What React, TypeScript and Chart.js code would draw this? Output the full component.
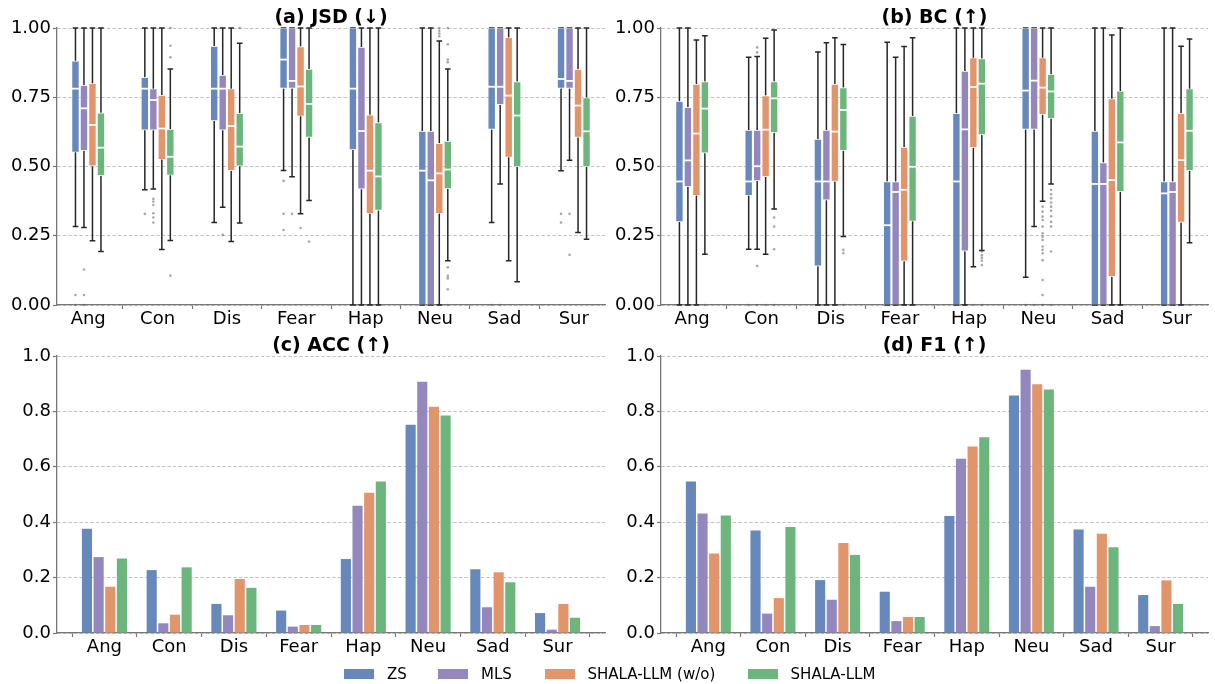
import React, { useEffect, useRef } from "react";
import { Chart, registerables } from "chart.js";

Chart.register(...registerables);

const FONT = "DejaVu Sans";

// ---------------- data ----------------
const categories = ["Ang", "Con", "Dis", "Fear", "Hap", "Neu", "Sad", "Sur"];
const seriesNames = ["ZS", "MLS", "SHALA-LLM (w/o)", "SHALA-LLM"];
const seriesColors = ["#6788bb", "#9487be", "#e2946a", "#6cb67e"];

// Box stats per category: [lowWhisker, q1, median, q3, highWhisker]
type BoxStat = number[];

const jsdZS: BoxStat[] = [
  [0.283, 0.551, 0.781, 0.882, 1.0],
  [0.416, 0.631, 0.781, 0.822, 1.0],
  [0.298, 0.664, 0.781, 0.935, 1.0],
  [0.486, 0.782, 0.886, 1.0, 1.0],
  [0.0, 0.56, 0.781, 1.0, 1.0],
  [0.0, 0.0, 0.485, 0.628, 1.0],
  [0.298, 0.634, 0.788, 1.0, 1.0],
  [0.485, 0.782, 0.816, 1.0, 1.0],
];
const jsdMLS: BoxStat[] = [
  [0.28, 0.557, 0.71, 0.793, 1.0],
  [0.419, 0.631, 0.74, 0.781, 1.0],
  [0.353, 0.631, 0.781, 0.83, 1.0],
  [0.463, 0.782, 0.809, 1.0, 1.0],
  [0.0, 0.418, 0.628, 0.931, 1.0],
  [0.0, 0.0, 0.45, 0.628, 1.0],
  [0.437, 0.723, 0.788, 1.0, 1.0],
  [0.523, 0.782, 0.809, 1.0, 1.0],
];
const jsdWo: BoxStat[] = [
  [0.232, 0.501, 0.65, 0.8, 1.0],
  [0.2, 0.525, 0.637, 0.758, 1.0],
  [0.229, 0.485, 0.646, 0.781, 1.0],
  [0.329, 0.681, 0.789, 0.933, 1.0],
  [0.0, 0.33, 0.485, 0.687, 1.0],
  [0.0, 0.33, 0.475, 0.584, 0.953],
  [0.16, 0.533, 0.756, 0.966, 1.0],
  [0.262, 0.605, 0.72, 0.851, 1.0],
];
const jsdShala: BoxStat[] = [
  [0.193, 0.467, 0.568, 0.694, 1.0],
  [0.233, 0.468, 0.535, 0.635, 0.852],
  [0.296, 0.501, 0.572, 0.692, 0.945],
  [0.377, 0.605, 0.726, 0.852, 1.0],
  [0.0, 0.341, 0.464, 0.659, 1.0],
  [0.16, 0.419, 0.489, 0.592, 0.852],
  [0.084, 0.498, 0.684, 0.807, 1.0],
  [0.237, 0.498, 0.627, 0.749, 1.0],
];

const jsdOutZS = [[0.036, 0.0], [0.329], [], [0.448, 0.329, 0.271], [], [], [0.0], [0.329, 0.298]];
const jsdOutMLS = [[0.128, 0.036, 0.0], [0.383, 0.373, 0.361, 0.331, 0.316, 0.298], [0.253], [0.329], [], [], [0.0], [0.329, 0.181]];
const jsdOutWo = [[], [], [], [0.278], [], [1.0, 0.99, 0.98, 0.97], [], []];
const jsdOutShala = [[], [1.0, 0.936, 0.894, 0.106], [1.0], [0.229], [], [1.0, 0.941, 0.886, 0.876, 0.136, 0.105, 0.096, 0.057, 0.0], [], []];

const bcZS: BoxStat[] = [
  [0.0, 0.3, 0.446, 0.736, 1.0],
  [0.201, 0.395, 0.446, 0.632, 0.894],
  [0.0, 0.14, 0.446, 0.599, 0.913],
  [0.0, 0.0, 0.288, 0.446, 0.949],
  [0.0, 0.0, 0.446, 0.692, 1.0],
  [0.1, 0.634, 0.774, 1.0, 1.0],
  [0.0, 0.0, 0.437, 0.628, 1.0],
  [0.0, 0.0, 0.403, 0.446, 1.0],
];
const bcMLS: BoxStat[] = [
  [0.0, 0.427, 0.522, 0.714, 1.0],
  [0.201, 0.448, 0.501, 0.632, 0.897],
  [0.0, 0.378, 0.446, 0.632, 0.947],
  [0.0, 0.0, 0.408, 0.446, 0.894],
  [0.0, 0.194, 0.634, 0.845, 1.0],
  [0.283, 0.634, 0.81, 1.0, 1.0],
  [0.0, 0.0, 0.437, 0.514, 1.0],
  [0.0, 0.0, 0.408, 0.446, 1.0],
];
const bcWo: BoxStat[] = [
  [0.0, 0.395, 0.619, 0.798, 0.957],
  [0.183, 0.462, 0.633, 0.756, 0.963],
  [0.0, 0.446, 0.626, 0.798, 0.965],
  [0.0, 0.158, 0.416, 0.57, 0.933],
  [0.138, 0.568, 0.787, 0.893, 1.0],
  [0.375, 0.687, 0.785, 0.893, 1.0],
  [0.0, 0.102, 0.451, 0.745, 0.975],
  [0.0, 0.298, 0.523, 0.692, 0.934],
];
const bcShala: BoxStat[] = [
  [0.183, 0.548, 0.709, 0.807, 0.972],
  [0.347, 0.622, 0.746, 0.807, 0.993],
  [0.247, 0.557, 0.704, 0.785, 0.94],
  [0.0, 0.302, 0.499, 0.682, 0.965],
  [0.197, 0.614, 0.799, 0.89, 1.0],
  [0.437, 0.673, 0.771, 0.833, 1.0],
  [0.0, 0.409, 0.587, 0.773, 1.0],
  [0.225, 0.484, 0.629, 0.781, 0.96],
];

const bcOutZS = [[], [0.0], [], [], [], [0.0], [], []];
const bcOutMLS = [[], [0.93, 0.912, 0.141, 0.0], [], [], [], [0.0], [], []];
const bcOutWo = [[], [0.0], [], [], [0.0], [0.355, 0.337, 0.319, 0.307, 0.283, 0.259, 0.247, 0.235, 0.211, 0.199, 0.187, 0.162, 0.09, 0.036, 0.0], [], []];
const bcOutShala = [[0.0], [0.316, 0.283, 0.201, 0.0], [0.199, 0.187, 0.0], [], [0.193, 0.18, 0.17, 0.16, 0.144, 0.0], [0.415, 0.4, 0.385, 0.37, 0.355, 0.34, 0.32, 0.3, 0.283, 0.193, 0.0], [], [0.0]];

const accZS = [0.376, 0.227, 0.105, 0.081, 0.267, 0.752, 0.23, 0.072];
const accMLS = [0.274, 0.035, 0.064, 0.023, 0.459, 0.907, 0.093, 0.012];
const accWo = [0.167, 0.066, 0.195, 0.029, 0.506, 0.817, 0.219, 0.105];
const accShala = [0.269, 0.237, 0.163, 0.029, 0.547, 0.785, 0.183, 0.055];

const f1ZS = [0.547, 0.37, 0.191, 0.149, 0.422, 0.857, 0.374, 0.137];
const f1MLS = [0.431, 0.07, 0.12, 0.043, 0.629, 0.95, 0.167, 0.025];
const f1Wo = [0.287, 0.126, 0.325, 0.058, 0.673, 0.898, 0.358, 0.19];
const f1Shala = [0.424, 0.383, 0.282, 0.058, 0.707, 0.879, 0.31, 0.105];

const topTicks = [0, 0.25, 0.5, 0.75, 1.0];
const bottomTicks = [0, 0.2, 0.4, 0.6, 0.8, 1.0];

// ---------------- helpers ----------------
const boxPlugin = {
  id: "boxExtras",
  beforeDatasetsDraw(chart: any) {
    const ctx = chart.ctx;
    const y = chart.scales.y;
    chart.data.datasets.forEach((ds: any, di: number) => {
      if (!ds.stats) return;
      const meta = chart.getDatasetMeta(di);
      meta.data.forEach((el: any, i: number) => {
        const s = ds.stats[i];
        const x = el.x;
        const cap = 2.8;
        ctx.save();
        ctx.strokeStyle = "#262626";
        ctx.lineWidth = 1.5;
        ctx.beginPath();
        ctx.moveTo(x, y.getPixelForValue(s[3]));
        ctx.lineTo(x, y.getPixelForValue(s[4]));
        ctx.moveTo(x, y.getPixelForValue(s[1]));
        ctx.lineTo(x, y.getPixelForValue(s[0]));
        ctx.moveTo(x - cap, y.getPixelForValue(s[4]));
        ctx.lineTo(x + cap, y.getPixelForValue(s[4]));
        ctx.moveTo(x - cap, y.getPixelForValue(s[0]));
        ctx.lineTo(x + cap, y.getPixelForValue(s[0]));
        ctx.stroke();
        ctx.restore();
      });
    });
  },
  afterDatasetsDraw(chart: any) {
    const ctx = chart.ctx;
    const y = chart.scales.y;
    chart.data.datasets.forEach((ds: any, di: number) => {
      if (!ds.stats) return;
      const meta = chart.getDatasetMeta(di);
      meta.data.forEach((el: any, i: number) => {
        const s = ds.stats[i];
        const x = el.x;
        const w = el.width;
        ctx.save();
        ctx.strokeStyle = "#ffffff";
        ctx.lineWidth = 1.8;
        ctx.beginPath();
        ctx.moveTo(x - w / 2, y.getPixelForValue(s[2]));
        ctx.lineTo(x + w / 2, y.getPixelForValue(s[2]));
        ctx.stroke();
        ctx.fillStyle = "rgba(95,95,95,0.55)";
        (ds.outliers[i] || []).forEach((v: number) => {
          ctx.beginPath();
          ctx.arc(x, y.getPixelForValue(v), 1.3, 0, Math.PI * 2);
          ctx.fill();
        });
        ctx.restore();
      });
    });
  },
};

function xScale(min: number, max: number) {
  return {
    type: "linear",
    min,
    max,
    offset: false,
    afterBuildTicks: (axis: any) => {
      axis.ticks = categories.map((_, i) => ({ value: i }));
    },
    afterFit: (axis: any) => {
      axis.height = 30;
    },
    ticks: {
      callback: (v: any) => categories[Math.round(Number(v))] ?? "",
      font: { family: FONT, size: 18 },
      color: "#000",
      padding: 0,
      maxRotation: 0,
      autoSkip: false,
    },
    grid: { drawOnChartArea: false, drawTicks: true, tickLength: 4, tickColor: "#777", tickWidth: 1.2 },
    border: { display: true, color: "#777", width: 1.3 },
  };
}

function yScale(ticks: number[], decimals: number) {
  return {
    type: "linear",
    min: 0,
    max: 1,
    afterBuildTicks: (axis: any) => {
      axis.ticks = ticks.map((v) => ({ value: v }));
    },
    afterFit: (axis: any) => {
      axis.width = 57;
    },
    ticks: {
      callback: (v: any) => Number(v).toFixed(decimals),
      font: { family: FONT, size: 18 },
      color: "#000",
      padding: 2,
    },
    grid: { color: "#b4b4b4", lineWidth: 0.8, drawTicks: true, tickLength: 4, tickColor: "#777", tickWidth: 1.2, tickBorderDash: [] },
    border: { display: true, color: "#777", width: 1.3, dash: [3.5, 2] },
  };
}

function commonOptions(padTop: number, padRight: number, xmin: number, xmax: number, ticks: number[], dec: number) {
  return {
    responsive: false,
    animation: false,
    events: [],
    layout: { padding: { top: padTop, right: padRight, left: 0, bottom: 0 } },
    plugins: { legend: { display: false }, tooltip: { enabled: false }, title: { display: false } },
    scales: { x: xScale(xmin, xmax), y: yScale(ticks, dec) },
  };
}

function boxConfig(stats: BoxStat[][], outliers: number[][][], padTop: number, padRight: number) {
  return {
    type: "bar",
    data: {
      datasets: seriesNames.map((name, si) => ({
        label: name,
        data: stats[si].map((s, i) => ({ x: i, y: [s[1], s[3]] })),
        stats: stats[si],
        outliers: outliers[si],
        backgroundColor: seriesColors[si],
        borderColor: "rgba(255,255,255,0.75)",
        borderWidth: 0.7,
        borderSkipped: false,
        categoryPercentage: 0.49,
        barPercentage: 0.92,
      })),
    },
    options: commonOptions(padTop, padRight, -0.45, 7.45, topTicks, 2),
    plugins: [boxPlugin],
  };
}

function barConfig(values: number[][], padTop: number, padRight: number) {
  return {
    type: "bar",
    data: {
      datasets: seriesNames.map((name, si) => ({
        label: name,
        data: values[si].map((v, i) => ({ x: i, y: v })),
        backgroundColor: seriesColors[si],
        borderWidth: 0,
        categoryPercentage: 0.72,
        barPercentage: 0.87,
      })),
    },
    options: commonOptions(padTop, padRight, -0.733, 7.733, bottomTicks, 1),
  };
}

function ChartCanvas(props: { left: number; top: number; width: number; height: number; make: () => any }) {
  const ref = useRef<HTMLCanvasElement | null>(null);
  useEffect(() => {
    if (!ref.current) return;
    const chart = new Chart(ref.current, props.make());
    return () => chart.destroy();
  }, []);
  return (
    <canvas
      ref={ref}
      width={props.width}
      height={props.height}
      style={{ position: "absolute", left: props.left, top: props.top, width: props.width, height: props.height }}
    />
  );
}

function Title(props: { text: string; cx: number; cy: number }) {
  return (
    <div
      style={{
        position: "absolute",
        left: props.cx - 150,
        top: props.cy - 10,
        width: 300,
        height: 20,
        lineHeight: "20px",
        textAlign: "center",
        fontFamily: FONT,
        fontWeight: "bold",
        fontSize: 19,
        color: "#000",
        whiteSpace: "nowrap",
      }}
    >
      {props.text}
    </div>
  );
}

const legendPatchX = [344, 438, 544.5, 747.6];

export default function App() {
  return (
    <div style={{ position: "absolute", left: 0, top: 0, width: 1215, height: 684, background: "#fff", overflow: "hidden" }}>
      <ChartCanvas left={0} top={0} width={607} height={335}
        make={() => boxConfig([jsdZS, jsdMLS, jsdWo, jsdShala], [jsdOutZS, jsdOutMLS, jsdOutWo, jsdOutShala], 28, 2)} />
      <ChartCanvas left={604} top={0} width={611} height={335}
        make={() => boxConfig([bcZS, bcMLS, bcWo, bcShala], [bcOutZS, bcOutMLS, bcOutWo, bcOutShala], 28, 7)} />
      <ChartCanvas left={0} top={330} width={607} height={333}
        make={() => barConfig([accZS, accMLS, accWo, accShala], 26, 2)} />
      <ChartCanvas left={604} top={330} width={611} height={333}
        make={() => barConfig([f1ZS, f1MLS, f1Wo, f1Shala], 26, 7)} />
      <Title text="(a) JSD (↓)" cx={331} cy={15.5} />
      <Title text="(b) BC (↑)" cx={934.5} cy={15.5} />
      <Title text="(c) ACC (↑)" cx={331} cy={343.5} />
      <Title text="(d) F1 (↑)" cx={934.5} cy={343.5} />
      {seriesNames.map((name, i) => (
        <React.Fragment key={name}>
          <div style={{ position: "absolute", left: legendPatchX[i], top: 668.5, width: 30, height: 10.5, background: seriesColors[i] }} />
          <div
            style={{
              position: "absolute",
              left: legendPatchX[i] + 43,
              top: 665,
              height: 18,
              lineHeight: "18px",
              fontFamily: FONT,
              fontSize: 15,
              color: "#000",
              whiteSpace: "nowrap",
            }}
          >
            {name}
          </div>
        </React.Fragment>
      ))}
    </div>
  );
}
